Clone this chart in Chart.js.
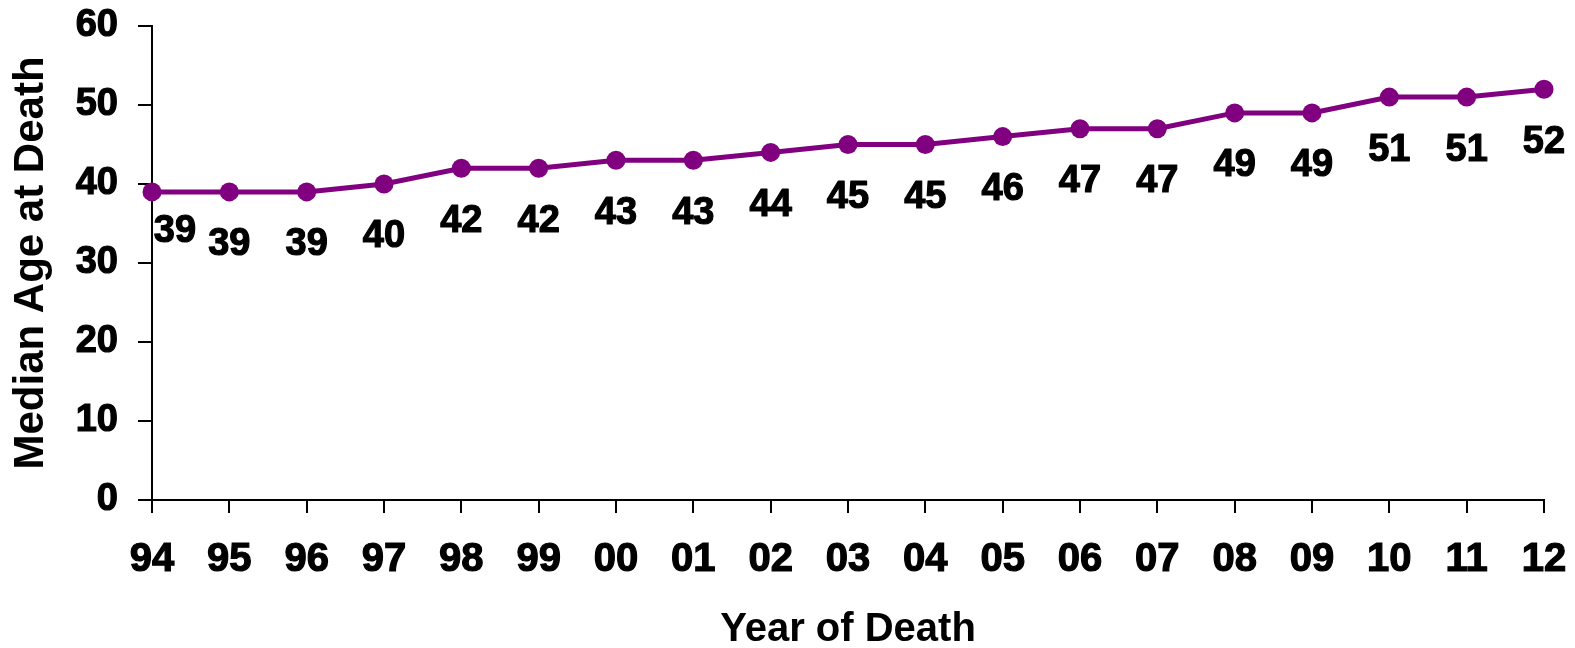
<!DOCTYPE html>
<html>
<head>
<meta charset="utf-8">
<script src="https://cdn.jsdelivr.net/npm/chart.js@4/dist/chart.umd.min.js"></script>
<style>
  html, body { margin: 0; padding: 0; background: #ffffff; }
  #wrap { width: 1575px; height: 648px; }
</style>
</head>
<body>
<div id="wrap"><canvas id="chart" width="1575" height="648"></canvas></div>
<script>
// Year of death (two-digit) and median age at death
const years = ['94', '95', '96', '97', '98', '99', '00', '01', '02', '03', '04', '05', '06', '07', '08', '09', '10', '11', '12'];
const medianAge = [39, 39, 39, 40, 42, 42, 43, 43, 44, 45, 45, 46, 47, 47, 49, 49, 51, 51, 52];
const yTicks = { min: 0, max: 60, step: 10 };

const FONT = '"Liberation Sans", Arial, Helvetica, sans-serif';
const PURPLE = '#800080';

// Writes each point's value just below its marker
const valueLabels = {
  id: 'valueLabels',
  afterDatasetsDraw(chart) {
    const ctx = chart.ctx;
    const meta = chart.getDatasetMeta(0);
    const values = chart.data.datasets[0].data;
    ctx.save();
    ctx.font = 'bold 38px ' + FONT;
    ctx.fillStyle = '#000000';
    ctx.strokeStyle = '#000000';
    ctx.lineWidth = 1.2;
    ctx.lineJoin = 'round';
    ctx.textAlign = 'center';
    ctx.textBaseline = 'middle';
    meta.data.forEach((pt, i) => {
      // the first label is nudged right to clear the vertical axis
      const dx = i === 0 ? 23 : 0;
      const dy = i === 0 ? 40 : 53;
      const txt = String(values[i]);
      ctx.strokeText(txt, pt.x + dx, pt.y + dy);
      ctx.fillText(txt, pt.x + dx, pt.y + dy);
    });
    ctx.restore();
  }
};

function zeroPadding(scale) {
  scale.paddingLeft = 0;
  scale.paddingRight = 0;
  scale.paddingTop = 0;
  scale.paddingBottom = 0;
}

new Chart(document.getElementById('chart'), {
  type: 'line',
  data: {
    labels: years,
    datasets: [{
      data: medianAge,
      borderColor: PURPLE,
      backgroundColor: PURPLE,
      borderWidth: 5,
      pointRadius: 9.5,
      pointHoverRadius: 9.5,
      pointBackgroundColor: PURPLE,
      pointBorderColor: PURPLE,
      pointBorderWidth: 0,
      tension: 0,
      fill: false,
      clip: false
    }]
  },
  options: {
    responsive: false,
    animation: false,
    devicePixelRatio: 1,
    layout: { padding: { top: 26, left: 0, right: 31, bottom: 0 } },
    plugins: {
      legend: { display: false },
      tooltip: { enabled: false },
      title: { display: false }
    },
    scales: {
      x: {
        type: 'category',
        offset: false,
        afterFit(scale) { scale.height = 148; zeroPadding(scale); },
        grid: {
          display: true,
          drawOnChartArea: false,
          drawTicks: true,
          tickLength: 13,
          lineWidth: 2,
          color: '#000000'
        },
        border: { display: true, color: '#000000', width: 2 },
        ticks: {
          color: '#000000',
          textStrokeColor: '#000000',
          textStrokeWidth: 1.2,
          padding: 27,
          maxRotation: 0,
          autoSkip: false,
          font: { family: FONT, size: 40, weight: 'bold', lineHeight: 1 }
        },
        title: {
          display: true,
          text: 'Year of Death',
          color: '#000000',
          padding: { top: 0, bottom: 0 },
          font: { family: FONT, size: 40, weight: 'bold', lineHeight: 0.88 }
        }
      },
      y: {
        min: yTicks.min,
        max: yTicks.max,
        afterFit(scale) { scale.width = 152; zeroPadding(scale); },
        grid: {
          display: true,
          drawOnChartArea: false,
          drawTicks: true,
          tickLength: 14,
          lineWidth: 2,
          color: '#000000'
        },
        border: { display: true, color: '#000000', width: 2 },
        ticks: {
          stepSize: yTicks.step,
          color: '#000000',
          textStrokeColor: '#000000',
          textStrokeWidth: 1.2,
          padding: 20,
          font: { family: FONT, size: 38, weight: 'bold', lineHeight: 1 }
        },
        title: {
          display: true,
          text: 'Median Age at Death',
          color: '#000000',
          padding: { top: 10, bottom: 0 },
          font: { family: FONT, size: 42, weight: 'bold', lineHeight: 1 }
        }
      }
    }
  },
  plugins: [valueLabels]
});
</script>
</body>
</html>
